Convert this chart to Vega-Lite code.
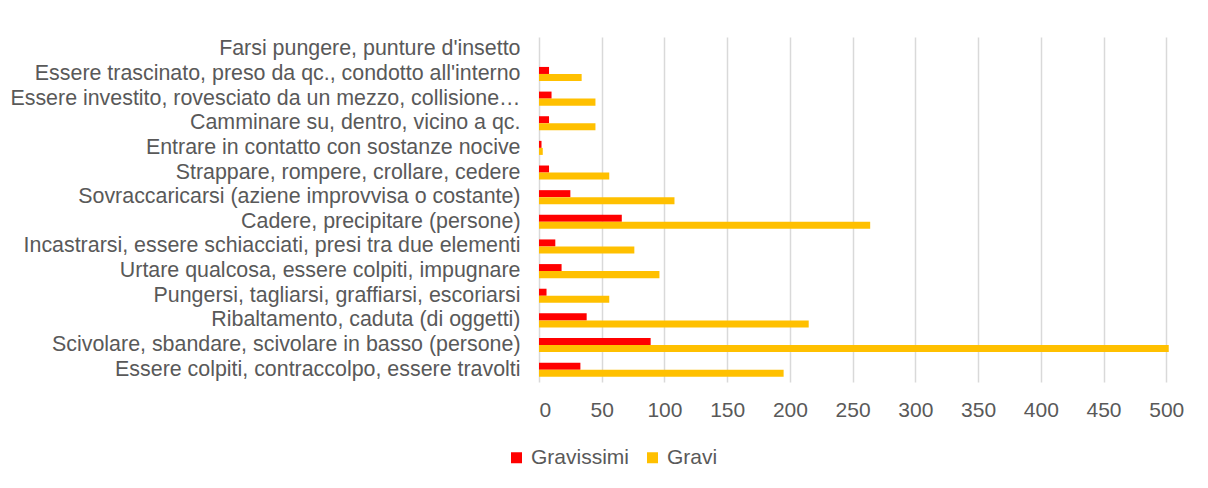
{
  "$schema": "https://vega.github.io/schema/vega-lite/v6.json",
  "autosize": {"type": "none"},
  "width": 631,
  "height": 345,
  "padding": {"left": 539, "top": 37, "right": 38, "bottom": 106},
  "background": "white",
  "data": {
    "values": [
      {"cat": "Farsi pungere, punture d'insetto", "serie": "Gravissimi", "val": 0},
      {"cat": "Farsi pungere, punture d'insetto", "serie": "Gravi", "val": 0},
      {"cat": "Essere trascinato, preso da qc., condotto all'interno", "serie": "Gravissimi", "val": 8},
      {"cat": "Essere trascinato, preso da qc., condotto all'interno", "serie": "Gravi", "val": 34},
      {"cat": "Essere investito, rovesciato da un mezzo, collisione…", "serie": "Gravissimi", "val": 10},
      {"cat": "Essere investito, rovesciato da un mezzo, collisione…", "serie": "Gravi", "val": 45},
      {"cat": "Camminare su, dentro, vicino a qc.", "serie": "Gravissimi", "val": 8},
      {"cat": "Camminare su, dentro, vicino a qc.", "serie": "Gravi", "val": 45},
      {"cat": "Entrare in contatto con sostanze nocive", "serie": "Gravissimi", "val": 2},
      {"cat": "Entrare in contatto con sostanze nocive", "serie": "Gravi", "val": 3},
      {"cat": "Strappare, rompere, crollare, cedere", "serie": "Gravissimi", "val": 8},
      {"cat": "Strappare, rompere, crollare, cedere", "serie": "Gravi", "val": 56},
      {"cat": "Sovraccaricarsi (aziene improvvisa o costante)", "serie": "Gravissimi", "val": 25},
      {"cat": "Sovraccaricarsi (aziene improvvisa o costante)", "serie": "Gravi", "val": 108},
      {"cat": "Cadere, precipitare (persone)", "serie": "Gravissimi", "val": 66},
      {"cat": "Cadere, precipitare (persone)", "serie": "Gravi", "val": 264},
      {"cat": "Incastrarsi, essere schiacciati, presi tra due elementi", "serie": "Gravissimi", "val": 13},
      {"cat": "Incastrarsi, essere schiacciati, presi tra due elementi", "serie": "Gravi", "val": 76},
      {"cat": "Urtare qualcosa, essere colpiti, impugnare", "serie": "Gravissimi", "val": 18},
      {"cat": "Urtare qualcosa, essere colpiti, impugnare", "serie": "Gravi", "val": 96},
      {"cat": "Pungersi, tagliarsi, graffiarsi, escoriarsi", "serie": "Gravissimi", "val": 6},
      {"cat": "Pungersi, tagliarsi, graffiarsi, escoriarsi", "serie": "Gravi", "val": 56},
      {"cat": "Ribaltamento, caduta (di oggetti)", "serie": "Gravissimi", "val": 38},
      {"cat": "Ribaltamento, caduta (di oggetti)", "serie": "Gravi", "val": 215},
      {"cat": "Scivolare, sbandare, scivolare in basso (persone)", "serie": "Gravissimi", "val": 89},
      {"cat": "Scivolare, sbandare, scivolare in basso (persone)", "serie": "Gravi", "val": 502},
      {"cat": "Essere colpiti, contraccolpo, essere travolti", "serie": "Gravissimi", "val": 33},
      {"cat": "Essere colpiti, contraccolpo, essere travolti", "serie": "Gravi", "val": 195}
    ]
  },
  "mark": {"type": "bar"},
  "encoding": {
    "y": {
      "field": "cat",
      "type": "nominal",
      "sort": null,
      "scale": {"paddingInner": 0.43, "paddingOuter": 0.215},
      "axis": {
        "title": null,
        "ticks": false,
        "domain": false,
        "labelFont": "Liberation Sans",
        "labelFontSize": 21.4,
        "labelColor": "#595959",
        "labelPadding": 19,
        "labelLimit": 600
      }
    },
    "yOffset": {"field": "serie", "type": "nominal", "sort": ["Gravissimi", "Gravi"]},
    "x": {
      "field": "val",
      "type": "quantitative",
      "scale": {"domain": [0, 503], "nice": false},
      "axis": {
        "title": null,
        "values": [0, 50, 100, 150, 200, 250, 300, 350, 400, 450, 500],
        "ticks": false,
        "domain": false,
        "grid": true,
        "gridColor": "#d9d9d9",
        "gridWidth": 1.5,
        "labelFont": "Liberation Sans",
        "labelFontSize": 21,
        "labelColor": "#595959",
        "labelPadding": 17
      }
    },
    "color": {
      "field": "serie",
      "type": "nominal",
      "sort": ["Gravissimi", "Gravi"],
      "scale": {"domain": ["Gravissimi", "Gravi"], "range": ["#ff0000", "#ffc000"]},
      "legend": {
        "title": null,
        "orient": "none",
        "direction": "horizontal",
        "legendX": -33,
        "legendY": 410,
        "symbolType": "square",
        "symbolSize": 121,
        "symbolOpacity": 1,
        "symbolStrokeWidth": 0,
        "labelFont": "Liberation Sans",
        "labelFontSize": 21,
        "labelColor": "#595959",
        "labelOffset": 4,
        "columnPadding": 13
      }
    }
  },
  "config": {"view": {"stroke": null}}
}
